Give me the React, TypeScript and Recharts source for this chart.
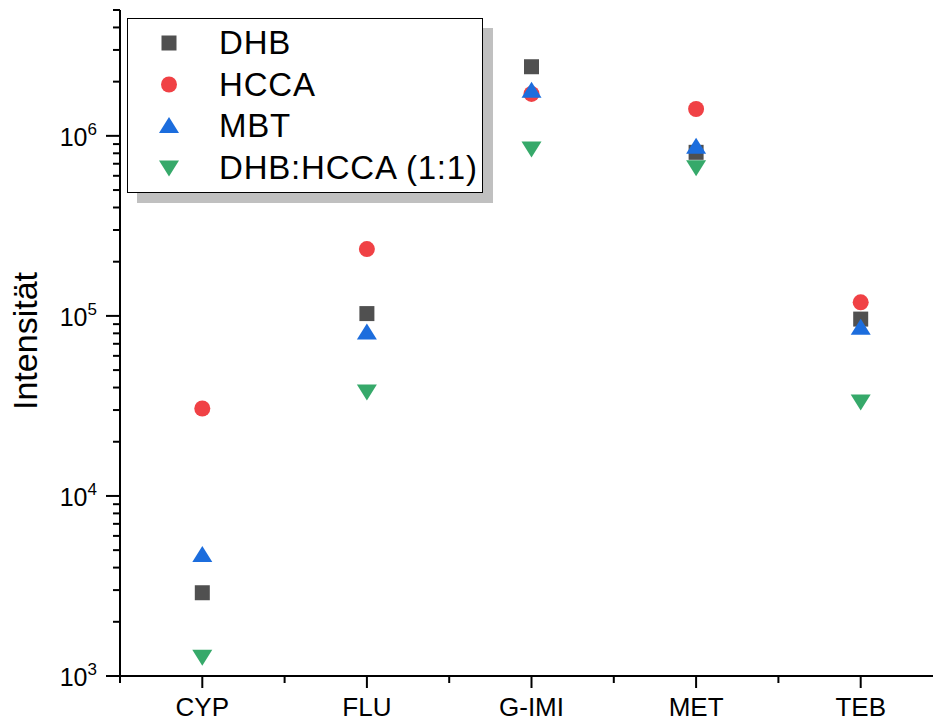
import { ScatterChart, Scatter, XAxis, YAxis, Legend } from "recharts";

const CATEGORIES = ["CYP", "FLU", "G-IMI", "MET", "TEB"];

const DHB = [2.9e3, 1.03e5, 2.42e6, 8.1e5, 9.6e4];
const HCCA = [3.06e4, 2.35e5, 1.71e6, 1.41e6, 1.19e5];
const MBT = [4.7e3, 8.1e4, 1.78e6, 8.7e5, 8.6e4];
const DHB_HCCA = [1.28e3, 3.8e4, 8.5e5, 6.7e5, 3.35e4];

const X_TICKS = [-0.5, 0, 0.5, 1, 1.5, 2, 2.5, 3, 3.5, 4, 4.5];
const Y_TICKS = [
  1e3, 2e3, 3e3, 4e3, 5e3, 6e3, 7e3, 8e3, 9e3,
  1e4, 2e4, 3e4, 4e4, 5e4, 6e4, 7e4, 8e4, 9e4,
  1e5, 2e5, 3e5, 4e5, 5e5, 6e5, 7e5, 8e5, 9e5,
  1e6, 2e6, 3e6, 4e6, 5e6,
];

const PLOT_LEFT = 120;
const PLOT_BOTTOM = 676;
const FONT = "'Liberation Sans', Arial, sans-serif";

type Shape = "square" | "circle" | "up" | "down";

const SERIES: { name: string; values: number[]; color: string; shape: Shape }[] = [
  { name: "DHB", values: DHB, color: "#505050", shape: "square" },
  { name: "HCCA", values: HCCA, color: "#f04145", shape: "circle" },
  { name: "MBT", values: MBT, color: "#1c6ddd", shape: "up" },
  { name: "DHB:HCCA (1:1)", values: DHB_HCCA, color: "#36a96a", shape: "down" },
];

function marker(shape: Shape, cx: number, cy: number, color: string) {
  if (shape === "square") {
    return <rect x={cx - 7.5} y={cy - 7.5} width={15} height={15} fill={color} />;
  }
  if (shape === "circle") {
    return <circle cx={cx} cy={cy} r={8} fill={color} />;
  }
  if (shape === "up") {
    return (
      <polygon
        points={`${cx - 10},${cy + 7} ${cx + 10},${cy + 7} ${cx},${cy - 9}`}
        fill={color}
      />
    );
  }
  return (
    <polygon
      points={`${cx - 10},${cy - 7} ${cx + 10},${cy - 7} ${cx},${cy + 9}`}
      fill={color}
    />
  );
}

function XTick(props: any) {
  const { x, payload } = props;
  const v = payload.value as number;
  const major = Number.isInteger(v);
  return (
    <g>
      <line x1={x} x2={x} y1={PLOT_BOTTOM} y2={PLOT_BOTTOM + (major ? 12 : 7)} stroke="#000" strokeWidth={2} />
      {major && (
        <text x={x} y={716} textAnchor="middle" fontSize={26} fontFamily={FONT} fill="#000">
          {CATEGORIES[v]}
        </text>
      )}
    </g>
  );
}

function YTick(props: any) {
  const { y, payload } = props;
  const v = payload.value as number;
  const exp = Math.round(Math.log10(v));
  const major = Math.abs(Math.pow(10, exp) - v) < 1e-6 * v;
  return (
    <g>
      <line x1={PLOT_LEFT - (major ? 14 : 7)} x2={PLOT_LEFT} y1={y} y2={y} stroke="#000" strokeWidth={2} />
      {major && (
        <text x={97} y={y + 10} textAnchor="end" fontFamily={FONT} fill="#000">
          <tspan fontSize={25}>10</tspan>
          <tspan fontSize={17} dy={-11}>{exp}</tspan>
        </text>
      )}
    </g>
  );
}

function LegendBox() {
  return (
    <div
      style={{
        width: 356,
        height: 175,
        background: "#fff",
        border: "1.5px solid #000",
        boxSizing: "border-box",
        boxShadow: "10px 10px 0 #c0c0c0",
      }}
    >
      <svg width={353} height={172} style={{ display: "block" }}>
        {SERIES.map((s, i) => {
          const cy = 24 + i * 41.5;
          return (
            <g key={s.name}>
              {marker(s.shape, 41, cy, s.color)}
              <text x={91} y={cy + 11} fontSize={33} letterSpacing={0.8} fontFamily={FONT} fill="#000">
                {s.name}
              </text>
            </g>
          );
        })}
      </svg>
    </div>
  );
}

export default function App() {
  return (
    <div
      style={{
        position: "absolute",
        left: 0,
        top: 0,
        width: 933,
        height: 722,
        overflow: "hidden",
        background: "#fff",
      }}
    >
      <ScatterChart width={943} height={722} margin={{ top: 10, right: 0, bottom: 0, left: 0 }}>
        <XAxis
          type="number"
          dataKey="x"
          domain={[-0.5, 4.5]}
          ticks={X_TICKS}
          interval={0}
          height={46}
          axisLine={{ stroke: "#000", strokeWidth: 2 }}
          tickLine={false}
          tick={<XTick />}
          allowDataOverflow
        />
        <YAxis
          type="number"
          dataKey="y"
          scale="log"
          domain={[1000, 5e6]}
          ticks={Y_TICKS}
          interval={0}
          width={120}
          axisLine={{ stroke: "#000", strokeWidth: 2 }}
          tickLine={false}
          tick={<YTick />}
          allowDataOverflow
          label={{
            content: () => (
              <text
                x={37}
                y={341}
                textAnchor="middle"
                fontSize={34}
                fontFamily={FONT}
                fill="#000"
                transform="rotate(-90 37 341)"
              >
                Intensität
              </text>
            ),
          }}
        />
        <Legend
          layout="vertical"
          align="center"
          verticalAlign="middle"
          wrapperStyle={{ left: 127, top: 18, width: 356, height: 175 }}
          content={() => <LegendBox />}
        />
        {SERIES.map((s) => (
          <Scatter
            key={s.name}
            name={s.name}
            data={s.values.map((v, i) => ({ x: i, y: v }))}
            fill={s.color}
            isAnimationActive={false}
            shape={(p: any) => marker(s.shape, p.cx, p.cy, s.color)}
          />
        ))}
      </ScatterChart>
    </div>
  );
}
